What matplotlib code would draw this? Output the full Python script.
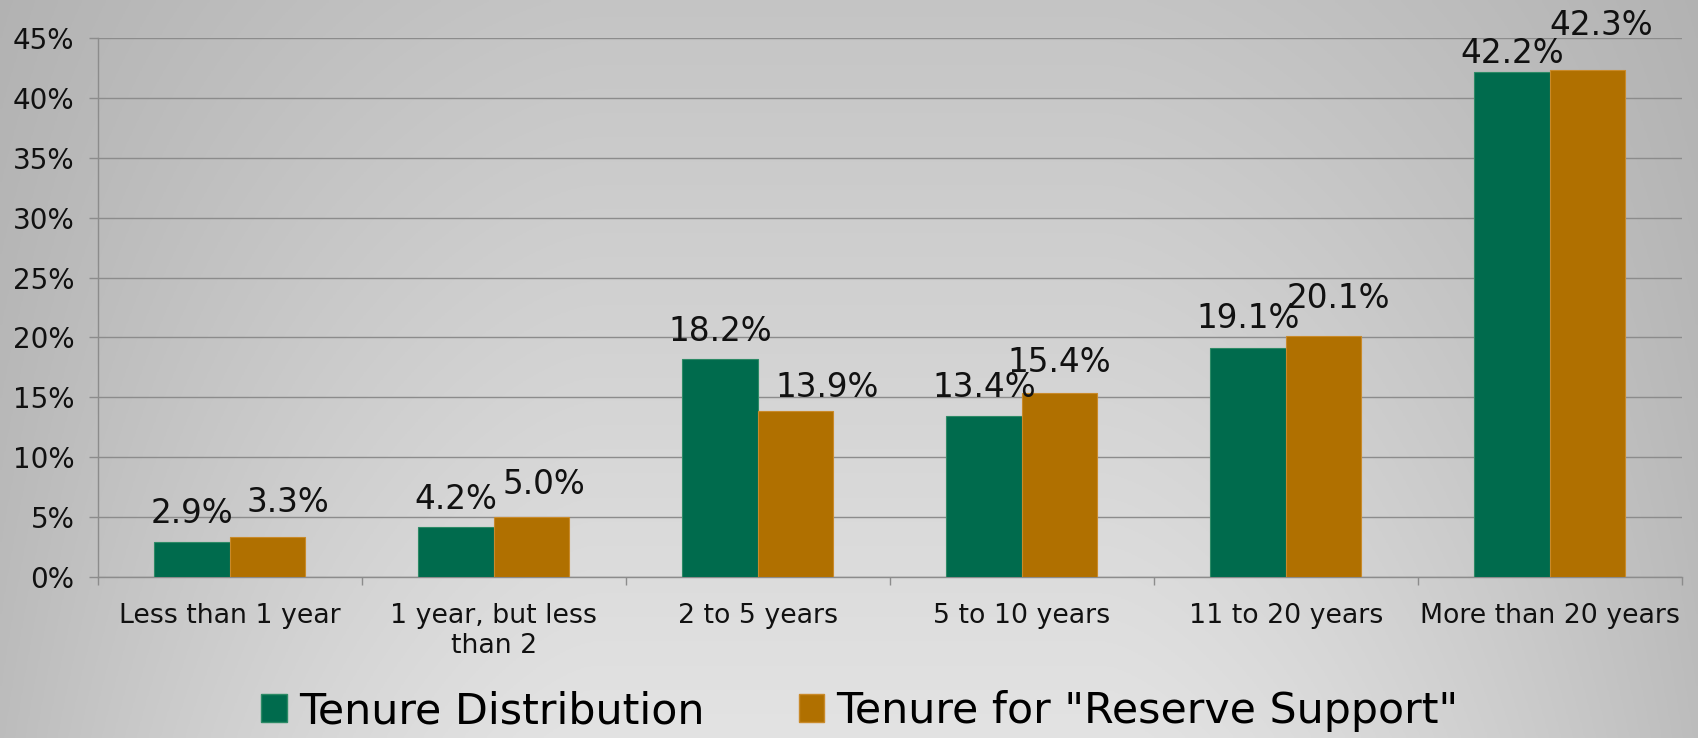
import numpy as np
import matplotlib
matplotlib.use("Agg")
import matplotlib.pyplot as plt
from matplotlib.patches import Patch

categories = ["Less than 1 year", "1 year, but less\nthan 2", "2 to 5 years",
              "5 to 10 years", "11 to 20 years", "More than 20 years"]
series_names = ["Tenure Distribution", 'Tenure for "Reserve Support"']
tenure_distribution = [2.9, 4.2, 18.2, 13.4, 19.1, 42.2]
reserve_support = [3.3, 5.0, 13.9, 15.4, 20.1, 42.3]
yticks = [0, 5, 10, 15, 20, 25, 30, 35, 40, 45]

GREEN = "#006b4d"
ORANGE = "#b07000"
GRID = "#8c8c8c"

# data-label placement (pixel offsets from bar top centre, as placed in the original)
green_label_offsets = [(0, 19), (0, 18), (0, 18), (0, 19), (0, 20), (0, 9)]
orange_label_offsets = [(21, 25), (12, 23), (32, 14), (0, 21), (15, 28), (13, 35)]

plt.rcParams['font.family'] = ['DejaVu Sans']

W, H = 1698, 738
fig = plt.figure(figsize=(W / 100, H / 100), dpi=100)

# background gradient
bg = fig.add_axes([0, 0, 1, 1], zorder=-10)
xs = np.linspace(0, 1, 500)
ys = np.linspace(0, 1, 250)
X, Y = np.meshgrid(xs, ys)
v = 0.77 + 0.12 * Y
edge = np.minimum(X, 1 - X)
v -= (0.07 + 0.08 * Y) * np.clip(1 - edge / 0.35, 0, 1) ** 1.5
img = np.dstack([v, v, v])
bg.imshow(img, aspect='auto', extent=[0, 1, 0, 1], origin='upper')
bg.axis('off')

left, right = 97.5 / W, 1682 / W
bottom, top = 1 - 577 / H, 1 - 38 / H
ax = fig.add_axes([left, bottom, right - left, top - bottom])
ax.patch.set_alpha(0)

x = np.arange(len(categories))
bw = 0.286
b1 = ax.bar(x - bw / 2, tenure_distribution, bw, color=GREEN,
            edgecolor="#2d8a66", linewidth=0.8, zorder=3)
b2 = ax.bar(x + bw / 2, reserve_support, bw, color=ORANGE,
            edgecolor="#c98a2a", linewidth=0.8, zorder=3)

for bars, vals, offs in ((b1, tenure_distribution, green_label_offsets),
                         (b2, reserve_support, orange_label_offsets)):
    for rect, val, off in zip(bars, vals, offs):
        ax.annotate(f"{val:.1f}%", (rect.get_x() + rect.get_width() / 2, rect.get_height()),
                    xytext=off, textcoords='offset pixels', ha='center', va='baseline',
                    fontsize=23.5, color='#111111', zorder=5, annotation_clip=False)

ax.set_xlim(-0.5, len(categories) - 0.5)
ax.set_ylim(0, 45)
ax.set_yticks(yticks)
ax.set_yticklabels([f"{t}%" for t in yticks], fontsize=20, color='#111111')
ax.yaxis.grid(True, color=GRID, linewidth=1.0, zorder=0)
ax.set_axisbelow(True)
ax.tick_params(axis='y', length=6.5, width=1.0, color=GRID, pad=10)

ax.set_xticks(np.arange(-0.5, len(categories), 1.0))
ax.set_xticklabels([])
ax.tick_params(axis='x', which='major', length=6, width=1.0, color=GRID, direction='out')
ax.set_xticks(x, minor=True)
ax.set_xticklabels(categories, minor=True, fontsize=19.3, color='#111111',
                   linespacing=1.2)
ax.tick_params(axis='x', which='minor', length=0, pad=19)

for s in ['top', 'right']:
    ax.spines[s].set_visible(False)
for s in ['left', 'bottom']:
    ax.spines[s].set_color(GRID)
    ax.spines[s].set_linewidth(1.0)

handles = [Patch(facecolor=GREEN, edgecolor="#2d8a66"),
           Patch(facecolor=ORANGE, edgecolor="#c98a2a")]
fig.legend(handles, series_names, loc='center', bbox_to_anchor=(860 / W, 1 - 711 / H),
           ncol=2, frameon=False, fontsize=30.8, handlelength=0.6, handleheight=0.6,
           handletextpad=0.28, columnspacing=2.2, borderpad=0, borderaxespad=0)

fig.savefig("out.png", dpi=100)
